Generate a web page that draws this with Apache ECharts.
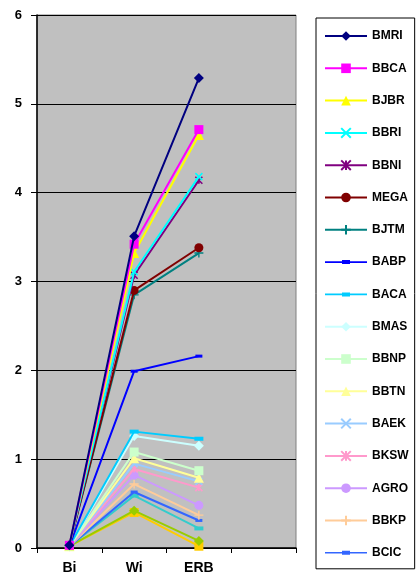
<!DOCTYPE html>
<html><head><meta charset="utf-8">
<script src="https://cdn.jsdelivr.net/npm/echarts@6/dist/echarts.min.js"></script>
<style>html,body{margin:0;padding:0;background:#fff}#c{width:416px;height:578px}</style>
</head><body><div id="c"></div>
<script>
var categories = ['Bi', 'Wi', 'ERB', ''];
var yTicks = [0, 1, 2, 3, 4, 5, 6];
var legendNames = ['BMRI','BBCA','BJBR','BBRI','BBNI','MEGA','BJTM','BABP','BACA','BMAS','BBNP','BBTN','BAEK','BKSW','AGRO','BBKP','BCIC'];
var seriesNames = legendNames.concat(['S18','S19','S20']);
var BMRI = [0.03, 3.51, 5.29];
var BBCA = [0.03, 3.42, 4.71];
var BJBR = [0.03, 3.32, 4.65];
var BBRI = [0.03, 3.11, 4.18];
var BBNI = [0.03, 3.07, 4.14];
var MEGA = [0.03, 2.90, 3.38];
var BJTM = [0.03, 2.85, 3.32];
var BABP = [0.02, 1.99, 2.16];
var BACA = [0.02, 1.31, 1.23];
var BMAS = [0.02, 1.26, 1.15];
var BBNP = [0.02, 1.08, 0.87];
var BBTN = [0.02, 1.01, 0.79];
var BAEK = [0.02, 0.95, 0.75];
var BKSW = [0.02, 0.89, 0.68];
var AGRO = [0.02, 0.82, 0.48];
var BBKP = [0.02, 0.72, 0.37];
var BCIC = [0.02, 0.63, 0.31];
var S18 = [0.02, 0.59, 0.22];
var S19 = [0.02, 0.42, 0.08];
var S20 = [0.02, 0.40, 0.02];
var values = [BMRI,BBCA,BJBR,BBRI,BBNI,MEGA,BJTM,BABP,BACA,BMAS,BBNP,BBTN,BAEK,BKSW,AGRO,BBKP,BCIC,S18,S19,S20];
var colors = ['#000080','#FF00FF','#FFFF00','#00FFFF','#800080','#800000','#008080','#0000FF','#00CCFF','#CCFFFF','#CCFFCC','#FFFF99','#99CCFF','#FF99CC','#CC99FF','#FFCC99','#3366FF','#33CCCC','#99CC00','#FFCC00'];

var X = 'path://M0,0L10,10M10,0L0,10';
var STAR = 'path://M0,0L10,10M10,0L0,10M5,0L5,10';
var PLUS = 'path://M5,0L5,10M0,5L10,5';
var DASH_ICON = 'path://M0,1.2L42,1.2L42,2.8L0,2.8ZM17,0L25,0L25,4L17,4Z';
var markers = [
  {s:'diamond', z:10, b:0}, {s:'rect', z:9, b:0}, {s:'triangle', z:10, b:0}, {s:X, z:7, b:1.6},
  {s:STAR, z:7, b:1.6}, {s:'circle', z:9, b:0}, {s:PLUS, z:9, b:1.4}, {s:'rect', z:[7,3], b:0}, {s:'rect', z:[9,4], b:0}
];

var series = seriesNames.map(function(n, i){
  var m = markers[i % 9];
  return {
    name: n, type: 'line', data: values[i],
    symbol: m.s, symbolSize: m.z, showAllSymbol: true,
    lineStyle: {color: colors[i], width: 2},
    itemStyle: {color: colors[i], borderColor: colors[i], borderWidth: m.b},
    emphasis: {disabled: true}, animation: false, z: 20 - i
  };
});

var legendData = legendNames.map(function(n, i){
  var k = i % 9;
  if (k === 7 || k === 8) return {name: n, icon: DASH_ICON};
  return {name: n};
});

var chart = echarts.init(document.getElementById('c'));
chart.setOption({
  backgroundColor: '#ffffff',
  animation: false,
  textStyle: {fontFamily: 'Liberation Sans, Arial, sans-serif'},
  grid: {left: 37, right: 120, top: 15, bottom: 30, show: true, backgroundColor: '#C0C0C0', borderColor: '#808080', borderWidth: 1},
  xAxis: {
    type: 'category', data: categories, boundaryGap: true,
    axisLine: {lineStyle: {color: '#000', width: 1.5}},
    axisTick: {show: true, length: 5, lineStyle: {color: '#000'}},
    axisLabel: {color: '#000', fontWeight: 'bold', fontSize: 14, margin: 13}
  },
  yAxis: {
    type: 'value', min: yTicks[0], max: yTicks[yTicks.length-1], interval: 1,
    axisLine: {show: true, lineStyle: {color: '#000', width: 1.5}},
    axisTick: {show: true, length: 6, lineStyle: {color: '#000'}},
    splitLine: {show: true, lineStyle: {color: '#000', width: 1}},
    axisLabel: {color: '#000', fontWeight: 'bold', fontSize: 13, margin: 15}
  },
  legend: {
    orient: 'vertical', left: 316, top: 18, data: legendData,
    width: 97, height: 549,
    borderColor: '#000', borderWidth: 1, padding: [12, 6, 10, 8],
    itemWidth: 42, itemHeight: 12, itemGap: 20.3,
    textStyle: {color: '#000', fontWeight: 'bold', fontSize: 12},
    selectedMode: false
  },
  series: series
});
</script></body></html>
